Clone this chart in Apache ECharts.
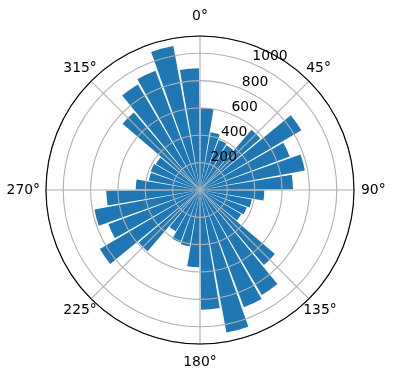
<!DOCTYPE html>
<html>
<head>
<meta charset="utf-8">
<script src="https://cdn.jsdelivr.net/npm/echarts@6/dist/echarts.min.js"></script>
<style>
html, body { margin: 0; padding: 0; background: #fff; }
#chart { width: 396px; height: 380px; }
</style>
</head>
<body>
<div id="chart"></div>
<script>
// bar directions (deg, clockwise from north, bar centres) and bar lengths
var directions = ['5', '15', '25', '35', '45', '55', '65', '75', '85',
  '95', '105', '115', '125', '135', '145', '155', '165', '175',
  '185', '195', '205', '215', '225', '235', '245', '255', '265',
  '275', '285', '295', '305', '315', '325', '335', '345', '355']
var lengths = [600, 430, 390, 380, 580, 860, 700, 780, 680,
  470, 385, 365, 350, 720, 890, 915, 1060, 875,
  565, 420, 410, 350, 590, 850, 715, 785, 685,
  470, 380, 385, 375, 745, 895, 930, 1070, 890]
var angleTicks = [0, 45, 90, 135, 180, 225, 270, 315]
var radiusTicks = [200, 400, 600, 800, 1000]
var rMax = 1126

var chart = echarts.init(document.getElementById('chart'))
var center = [200, 190]
var radius = 154
var font = 'DejaVu Sans'

// matplotlib centres the theta labels, echarts anchors them by side,
// so nudge each one with padding
function pad(p) {
  return { padding: p, fontSize: 13.9, fontFamily: font, color: '#000' }
}
var angleRich = {
  a0: pad([0, 0, 21, 0]),
  a45: pad([0, 0, 11, 3]),
  a90: pad([0, 0, 0, 15]),
  a135: pad([10, 0, 0, 0]),
  a180: pad([19, 0, 0, 0]),
  a225: pad([10, 0, 0, 0]),
  a270: pad([0, 14, 0, 0]),
  a315: pad([0, 0, 11, 0])
}

chart.setOption({
  animation: false,
  polar: [
    { center: center, radius: radius },   // bars
    { center: center, radius: radius },   // grid + angle labels
    { center: center, radius: radius }    // radius labels at 22.5deg
  ],
  angleAxis: [
    { polarIndex: 0, type: 'category', data: directions, startAngle: 90, clockwise: true, show: false },
    {
      polarIndex: 1, type: 'value', min: 0, max: 360, interval: 45,
      startAngle: 90, clockwise: true, z: 6,
      axisLine: { lineStyle: { color: '#000', width: 1.1 } },
      axisTick: { show: false },
      axisLabel: {
        margin: -8, color: '#000', fontSize: 13.9, fontFamily: font,
        formatter: function (v) {
          return angleTicks.indexOf(v) >= 0 ? '{a' + v + '|' + v + '°}' : ''
        },
        rich: angleRich
      },
      splitLine: { lineStyle: { color: '#b0b0b0', width: 1.1 } }
    },
    { polarIndex: 2, type: 'value', min: 0, max: 360, startAngle: 67.5, clockwise: true, show: false }
  ],
  radiusAxis: [
    { polarIndex: 0, min: 0, max: rMax, show: false },
    {
      polarIndex: 1, min: 0, max: rMax, interval: 200, z: 5,
      axisLine: { show: false }, axisTick: { show: false }, axisLabel: { show: false },
      splitLine: { lineStyle: { color: '#b0b0b0', width: 1.1 } }
    },
    {
      polarIndex: 2, min: 0, max: rMax, interval: 200, z: 7,
      axisLine: { show: false }, axisTick: { show: false }, splitLine: { show: false },
      axisLabel: {
        margin: 0, align: 'left', verticalAlign: 'bottom',
        color: '#000', fontSize: 13.9, fontFamily: font,
        formatter: function (v) { return radiusTicks.indexOf(v) >= 0 ? String(v) : '' }
      }
    }
  ],
  series: [
    {
      type: 'bar', coordinateSystem: 'polar', polarIndex: 0,
      data: lengths, barCategoryGap: '10%', z: 2,
      itemStyle: { color: '#1f77b4' }
    }
  ]
})
</script>
</body>
</html>
